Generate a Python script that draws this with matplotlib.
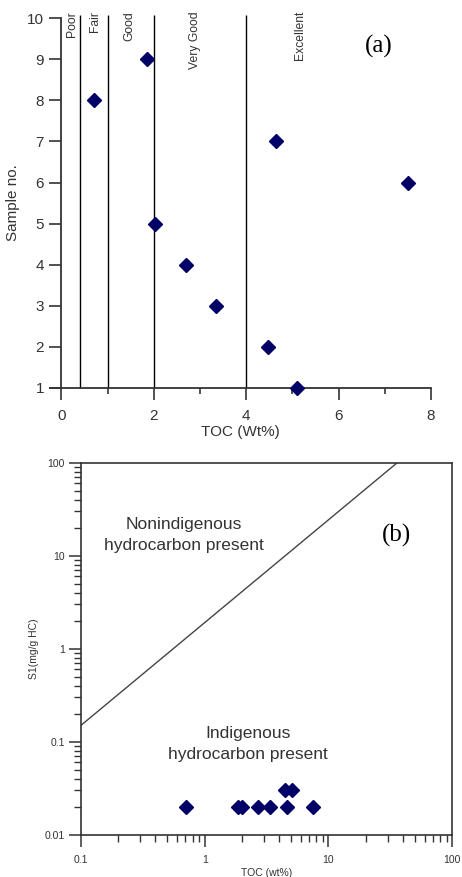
import numpy as np
import matplotlib as mpl
import matplotlib.pyplot as plt
from matplotlib.ticker import NullFormatter

# ---- data ----
sample_no = [1, 2, 3, 4, 5, 6, 7, 8, 9]
toc       = [5.09, 4.47, 3.34, 2.70, 2.02, 7.50, 4.64, 0.71, 1.86]
s1        = [0.03, 0.03, 0.02, 0.02, 0.02, 0.02, 0.02, 0.02, 0.02]

class_edges  = [0.4, 1.0, 2.0, 4.0]
class_names  = ["Poor", "Fair", "Good", "Very Good", "Excellent"]
class_label_x = [0.22, 0.73, 1.48, 2.90, 5.16]

boundary_x = [0.1, 36.0]
boundary_y = [0.15, 100.0]

mpl.rcParams.update({
    "font.family": ["Liberation Sans", "DejaVu Sans"],
    "text.color": "#333333",
    "axes.labelcolor": "#333333",
    "xtick.color": "#333333",
    "ytick.color": "#333333",
})

COL_PT   = "#000066"
COL_AXIS = "#333333"

fig = plt.figure(figsize=(4.62, 8.77), dpi=100)

############### (a) #################
ax1 = fig.add_axes([0.108, 0.558, 0.825, 0.421])
ax1.set_xlim(-0.25, 8)
ax1.set_ylim(1, 10)
ax1.spines["top"].set_visible(False)
ax1.spines["right"].set_visible(False)
ax1.spines["left"].set_position(("data", 0))
for sp in ("left", "bottom"):
    ax1.spines[sp].set_color(COL_AXIS)
    ax1.spines[sp].set_linewidth(1.3)

ax1.vlines(class_edges, 1, 10.08, color="black", lw=1.0, clip_on=False, zorder=1)
for name, xx in zip(class_names, class_label_x):
    ax1.text(xx, 10.18, name, rotation=90, ha="center", va="top", fontsize=8.7,
             color="#333333")

ax1.plot(toc, sample_no, ls="none", marker="D", ms=7, color=COL_PT,
         clip_on=False, zorder=3)

ax1.set_xticks([0, 2, 4, 6, 8])
ax1.set_xticks([1, 3, 5, 7], minor=True)
ax1.set_yticks(range(1, 11))
ax1.tick_params(axis="both", which="major", direction="out", length=8.5,
                width=1.2, labelsize=11, color=COL_AXIS)
ax1.tick_params(axis="y", pad=4)
ax1.tick_params(axis="x", pad=7)
ax1.tick_params(axis="x", which="minor", direction="out", length=4.5, width=1.2,
                color=COL_AXIS)
ax1.set_xlabel("TOC (Wt%)", fontsize=11, labelpad=1)
ax1.set_ylabel("Sample no.", fontsize=11, labelpad=5)
ax1.text(6.87, 9.31, "(a)", fontsize=18, family="Liberation Serif",
         ha="center", va="center", color="black")

############### (b) #################
ax2 = fig.add_axes([0.175, 0.048, 0.804, 0.4245])
ax2.set_xscale("log")
ax2.set_yscale("log")
ax2.set_xlim(0.1, 100)
ax2.set_ylim(0.01, 100)
for sp in ax2.spines.values():
    sp.set_color(COL_AXIS)
    sp.set_linewidth(1.2)

ax2.plot(boundary_x, boundary_y, color="#444444", lw=1.0)
ax2.plot(toc, s1, ls="none", marker="D", ms=7, color=COL_PT, zorder=3)

ax2.set_xticks([0.1, 1, 10, 100])
ax2.set_xticklabels(["0.1", "1", "10", "100"])
ax2.set_yticks([0.01, 0.1, 1, 10, 100])
ax2.set_yticklabels(["0.01", "0.1", "1", "10", "100"])
ax2.xaxis.set_minor_formatter(NullFormatter())
ax2.yaxis.set_minor_formatter(NullFormatter())
ax2.tick_params(which="major", direction="out", length=8.5, width=1.1,
                labelsize=7.5, color=COL_AXIS, pad=3)
ax2.tick_params(axis="x", which="major", pad=6)
ax2.tick_params(which="minor", direction="out", length=5, width=1.0,
                color=COL_AXIS)
ax2.set_xlabel("TOC (wt%)", fontsize=7.5, labelpad=2)
ax2.set_ylabel("S1(mg/g HC)", fontsize=7.5, labelpad=4)

ax2.text(0.68, 16.7, "Nonindigenous\nhydrocarbon present", fontsize=12.5,
         ha="center", va="center", linespacing=1.45)
ax2.text(2.23, 0.095, "Indigenous\nhydrocarbon present", fontsize=12.5,
         ha="center", va="center", linespacing=1.45)
ax2.text(35.5, 16.7, "(b)", fontsize=18, family="Liberation Serif",
         ha="center", va="center", color="black")

fig.savefig("out.png", dpi=100)
